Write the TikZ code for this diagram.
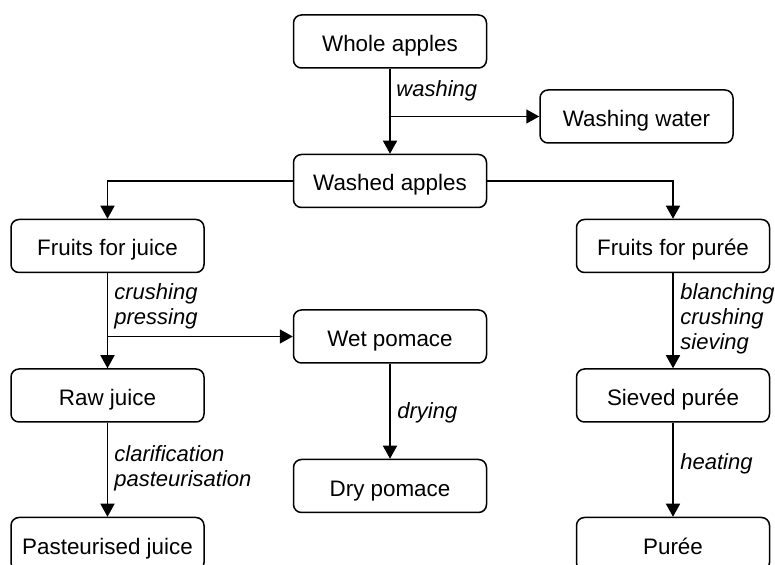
\documentclass[tikz,border=0pt]{standalone}
\usepackage{fontspec}
\setmainfont{Liberation Sans}
\usetikzlibrary{arrows.meta, positioning}

\begin{document}
\begin{tikzpicture}[x=0.5pt, y=-0.5pt]
  \tikzset{
    box/.style={
      draw,
      line width=0.75pt,
      rounded corners=4pt,
      minimum width=96.5pt,
      minimum height=26.5pt,
      text height=10pt,
      text depth=0pt,
      anchor=center,
      font=\fontsize{11.2}{13.4}\selectfont
    },
    proc/.style={
      font=\fontsize{11}{12.5}\selectfont\itshape,
      align=left,
      anchor=west,
      inner sep=0pt
    },
    flow/.style={
      line width=0.75pt,
      -{Triangle[length=6.5pt, width=7pt]}
    }
  }
  \useasboundingbox (0,0) rectangle (775,565);
  \clip (0,0) rectangle (775,565);

  % Draw the product boxes
  \node[box] at (390, 41.5) (whole) {Whole apples};
  \node[box] at (636.5, 116.5) (wwater) {Washing water};
  \node[box] at (390, 181) (washed) {Washed apples};
  \node[box] at (107.5, 246) (fjuice) {Fruits for juice};
  \node[box] at (673, 246) (fpuree) {Fruits for purée};
  \node[box] at (390, 336.5) (wetpom) {Wet pomace};
  \node[box] at (107.5, 395.5) (rawjuice) {Raw juice};
  \node[box] at (673, 395.5) (sieved) {Sieved purée};
  \node[box] at (390, 486) (drypom) {Dry pomace};
  \node[box] at (107.5, 544) (pjuice) {Pasteurised juice};
  \node[box] at (673, 544) (puree) {Purée};

  % Process steps
  \node[proc] at (396, 91) (lwash) {washing};
  \node[proc] at (114, 306.5) (lpress) {crushing\\pressing};
  \node[proc] at (114, 468.5) (lclar) {clarification\\pasteurisation};
  \node[proc] at (397, 413) (ldry) {drying};
  \node[proc] at (680, 319) (lsieve) {blanching\\crushing\\sieving};
  \node[proc] at (680, 464) (lheat) {heating};

  % Connectors
  \draw[flow] (whole) -- (washed);
  \coordinate (wsplit) at (whole |- wwater);
  \draw[flow] (wsplit) -- (wwater);
  \draw[flow] (washed) -| (fjuice);
  \draw[flow] (washed) -| (fpuree);
  \draw[flow] (fjuice) -- (rawjuice);
  \coordinate (jsplit) at (fjuice |- wetpom);
  \draw[flow] (jsplit) -- (wetpom);
  \draw[flow] (rawjuice) -- (pjuice);
  \draw[flow] (wetpom) -- (drypom);
  \draw[flow] (fpuree) -- (sieved);
  \draw[flow] (sieved) -- (puree);

\end{tikzpicture}
\end{document}
